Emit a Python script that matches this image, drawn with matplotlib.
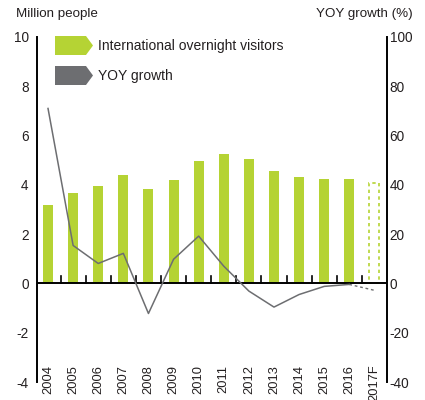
import matplotlib
matplotlib.use("Agg")
import matplotlib.pyplot as plt
from matplotlib.patches import Polygon

plt.rcParams['font.family'] = ['Liberation Sans', 'DejaVu Sans']

years = ["2004", "2005", "2006", "2007", "2008", "2009", "2010",
         "2011", "2012", "2013", "2014", "2015", "2016", "2017F"]
visitors = [3.17, 3.67, 3.94, 4.39, 3.82, 4.19, 4.96,
            5.24, 5.04, 4.55, 4.31, 4.23, 4.23, 4.09]
growth = [71.0, 15.4, 8.1, 12.2, -12.2, 9.8, 19.2,
          7.0, -3.1, -9.6, -4.5, -1.2, -0.4, -2.8]
left_ticks = [-4, -2, 0, 2, 4, 6, 8, 10]
right_ticks = [-40, -20, 0, 20, 40, 60, 80, 100]

GREEN = "#b5d334"
GREY = "#6d6e71"
TXT = "#231f20"

fig = plt.figure(figsize=(4.25, 4.0), dpi=100)
ax = fig.add_axes([0.087, 0.045, 0.8235, 0.8625])
ax2 = ax.twinx()

n = len(years)
xs = list(range(n))
actual = n - 1

# bars: actual years solid, forecast year as dotted outline
ax.bar(xs[:actual], visitors[:actual], width=0.4, color=GREEN, zorder=2)
ax.bar(xs[actual], visitors[actual], width=0.4, facecolor="none",
       edgecolor=GREEN, linestyle=(0, (2, 2)), linewidth=1.2, zorder=2)

# growth line, forecast segment dashed
ax2.plot(xs[:actual], growth[:actual], color=GREY, linewidth=1.1, zorder=3)
ax2.plot(xs[actual - 1:], growth[actual - 1:], color=GREY, linewidth=1.0,
         linestyle=(0, (2, 2)), zorder=3)

ax.set_xlim(-0.44, 13.5)
ax.set_ylim(-4, 10)
ax2.set_ylim(-40, 100)

# zero line with small ticks between categories
ax.axhline(0, color="black", linewidth=1.4, zorder=4)
for i in range(n - 1):
    ax.plot([i + 0.5, i + 0.5], [0, 0.32], color="black", linewidth=1.2, zorder=4)

for a in (ax, ax2):
    a.spines['top'].set_visible(False)
    a.spines['bottom'].set_visible(False)
    a.spines['left'].set_linewidth(1.4)
    a.spines['right'].set_linewidth(1.4)
    a.set_xticks([])
ax.spines['right'].set_visible(False)
ax2.spines['left'].set_visible(False)

ax.set_yticks(left_ticks)
ax.set_yticklabels([str(v) for v in left_ticks], fontsize=9.8, color=TXT)
ax.tick_params(axis='y', length=0, pad=6)
ax2.set_yticks(right_ticks)
ax2.set_yticklabels([str(v) for v in right_ticks], fontsize=9.8, color=TXT)
ax2.tick_params(axis='y', length=0, pad=2)

# year labels inside the lower part of the plot
for x, lab in zip(xs, years):
    ax.text(x, -3.3, lab, rotation=90, ha='center', va='top',
            fontsize=9.3, color=TXT, clip_on=False)

fig.text(16 / 425, 1 - 14 / 400, "Million people", fontsize=9.6, color=TXT,
         ha='left', va='center')
fig.text(413 / 425, 1 - 14 / 400, "YOY growth (%)", fontsize=9.6, color=TXT,
         ha='right', va='center')

# arrow-shaped legend keys
def arrow_key(y_top, color, label):
    x0, x1, x2 = 55, 86, 93
    y0, y1 = y_top, y_top + 19
    ym = (y0 + y1) / 2
    pts = [(x0, y0), (x1, y0), (x2, ym), (x1, y1), (x0, y1)]
    pts = [(px / 425, 1 - py / 400) for px, py in pts]
    fig.patches.append(Polygon(pts, closed=True, facecolor=color,
                               edgecolor="none", transform=fig.transFigure))
    fig.text(98 / 425, 1 - (ym + 0.5) / 400, label, fontsize=10,
             ha='left', va='center', color=TXT)

arrow_key(36, GREEN, "International overnight visitors")
arrow_key(66, GREY, "YOY growth")

fig.savefig("out.png", dpi=100)
